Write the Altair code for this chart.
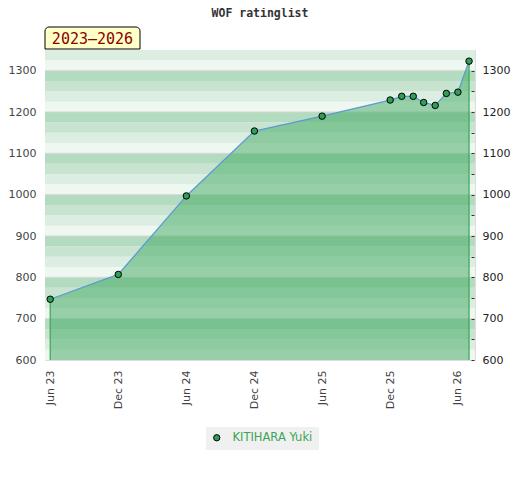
import altair as alt
import pandas as pd

# ---- data ----
dates = ["2023-06-01", "2023-12-01", "2024-06-01", "2024-12-01", "2025-06-01",
         "2025-12-01", "2026-01-01", "2026-02-01", "2026-03-01", "2026-04-01",
         "2026-05-01", "2026-06-01", "2026-07-01"]
ratings = [747, 807, 997, 1154, 1190, 1229, 1238, 1238, 1223, 1216, 1245, 1248, 1323]
player = "KITIHARA Yuki"
period_label = "2023–2026"
chart_title = "WOF ratinglist"
y_min, y_max = 600, 1350

df = pd.DataFrame({"date": dates, "rating": ratings, "player": [player] * len(dates)})
ends = df.iloc[[0, -1]]
one = pd.DataFrame({"t": [period_label], "title": [chart_title]})

band_lo = list(range(y_min, y_max, 25))
bands = pd.DataFrame({
    "lo": band_lo,
    "hi": [b + 25 for b in band_lo],
    "k": [str(b % 100) for b in band_lo],
})
grid = pd.DataFrame({"v": list(range(700, 1301, 100))})

W, H = 430, 310

xscale = alt.Scale(type="utc", domain=[
    alt.DateTime(year=2023, month=5, date=18, utc=True),
    alt.DateTime(year=2026, month=7, date=17, utc=True)])
xvals = [alt.DateTime(year=y, month=m, date=1, utc=True)
         for y, m in [(2023, 6), (2023, 12), (2024, 6), (2024, 12), (2025, 6), (2025, 12), (2026, 6)]]
yscale = alt.Scale(domain=[y_min, y_max], nice=False, zero=False)

xenc = alt.X("date:T", scale=xscale, title=None,
             axis=alt.Axis(values=xvals, format="%b %y", labelAngle=270, ticks=False,
                           domain=False, grid=False, labelPadding=10, labelFontSize=11,
                           labelColor="#444", labelFont="DejaVu Sans"))

band_layer = alt.Chart(bands).mark_rect().encode(
    x=alt.value(0), x2=alt.value(W),
    y=alt.Y("lo:Q", scale=yscale, title=None,
            axis=alt.Axis(values=list(range(600, 1351, 50)), format="d", labelOverlap=False,
                          ticks=False, domain=False,
                          grid=False, labelPadding=9, labelFontSize=11, labelColor="#444",
                          labelFont="DejaVu Sans")),
    y2="hi:Q",
    fill=alt.Fill("k:N", legend=None,
                  scale=alt.Scale(domain=["0", "25", "50", "75"],
                                  range=["#eff7f1", "#dcede2", "#c8e4d1", "#b3dbbf"])),
)

grid_layer = alt.Chart(grid).mark_rule(color="#d6d6d6", strokeWidth=1).encode(
    x=alt.value(0), x2=alt.value(W), y=alt.Y("v:Q", scale=yscale))

area_layer = alt.Chart(df).mark_area(color="#3fa95f", opacity=0.5).encode(
    x=xenc, y=alt.Y("rating:Q", scale=yscale), y2=alt.datum(y_min))

edge_layer = alt.Chart(ends).mark_rule(color="#3aa655", strokeWidth=1.2).encode(
    x="date:T", y=alt.Y("rating:Q", scale=yscale), y2=alt.datum(y_min))

line_layer = alt.Chart(df).mark_line(color="#5b9bd5", strokeWidth=1.3).encode(
    x="date:T", y=alt.Y("rating:Q", scale=yscale))

point_layer = alt.Chart(df).mark_point(filled=True, stroke="black", strokeWidth=1,
                                       size=42, opacity=1, shape="circle").encode(
    x="date:T", y=alt.Y("rating:Q", scale=yscale),
    color=alt.Color("player:N", title=None,
                    scale=alt.Scale(domain=[player], range=["#2f9e57"]),
                    legend=alt.Legend(orient="none", legendX=161, legendY=377,
                                      fillColor="#f0f0f0", padding=5,
                                      symbolType="circle", symbolSize=40,
                                      symbolStrokeColor="black", symbolStrokeWidth=1,
                                      labelColor="#3aa655", labelFontSize=11.5,
                                      labelFont="DejaVu Sans", labelOffset=10,
                                      strokeColor="#f0f0f0")),
)

box_layer = alt.Chart(one).mark_rect(fill="#ffffc8", stroke="black", strokeWidth=1,
                                     cornerRadiusTopLeft=4, cornerRadiusTopRight=4).encode(
    x=alt.value(0), x2=alt.value(95), y=alt.value(-23), y2=alt.value(-1))
box_text = alt.Chart(one).mark_text(color="#8b0000", fontSize=15,
                                    font="DejaVu Sans Mono", align="center",
                                    baseline="middle").encode(
    text="t:N", x=alt.value(47.5), y=alt.value(-11.5))
title_text = alt.Chart(one).mark_text(color="#333", fontSize=11.5, fontWeight="bold",
                                      font="DejaVu Sans Mono", align="center",
                                      baseline="middle").encode(
    text="title:N", x=alt.value(W / 2), y=alt.value(-36))

right_axis = alt.Chart(grid).mark_rule(opacity=0).encode(
    y=alt.Y("v:Q", scale=yscale, title=None,
            axis=alt.Axis(orient="right", values=list(range(600, 1301, 50)), format="d",
                          labelOverlap=False,
                          labelExpr="datum.value % 100 == 0 ? datum.label : ''",
                          tickSize=3, tickColor="#333", domain=False, grid=False,
                          offset=-4, labelPadding=8, labelFontSize=11,
                          labelColor="#222", labelFont="DejaVu Sans", zindex=1)))

main = alt.layer(band_layer, grid_layer, area_layer, edge_layer, line_layer, point_layer,
                 box_layer, box_text, title_text)

chart = alt.layer(main, right_axis).resolve_scale(y="independent").properties(
    width=W, height=H,
    autosize=alt.AutoSizeParams(type="none"),
    padding={"left": 37, "top": 42, "right": 37, "bottom": 112},
).configure_view(stroke="#cccccc", strokeWidth=1.5).configure(background="white")

chart.save("out.html", embed_options={"renderer": "svg", "actions": False})
